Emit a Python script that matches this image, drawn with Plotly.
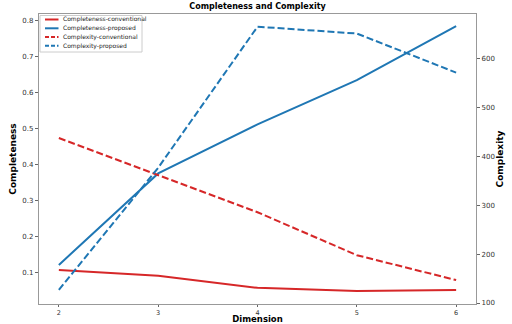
import plotly.graph_objects as go

dimension = [2, 3, 4, 5, 6]
completeness_conventional = [0.106, 0.090, 0.056, 0.047, 0.050]
completeness_proposed = [0.120, 0.375, 0.512, 0.635, 0.786]
complexity_conventional = [438, 362, 286, 198, 147]
complexity_proposed = [127, 377, 666, 652, 572]

series_names = ["Completeness-conventional", "Completeness-proposed",
                "Complexity-conventional", "Complexity-proposed"]

red = "#d62728"
blue = "#1f77b4"
DASH = "7px,3px"
FONT = "DejaVu Sans"

styles = [dict(color=red, width=2), dict(color=blue, width=2),
          dict(color=red, width=2, dash=DASH), dict(color=blue, width=2, dash=DASH)]
data = [completeness_conventional, completeness_proposed, complexity_conventional, complexity_proposed]
axes = ["y", "y", "y2", "y2"]

fig = go.Figure()
for name, vals, st, ax in zip(series_names, data, styles, axes):
    fig.add_trace(go.Scatter(x=dimension, y=vals, mode="lines", name=name, yaxis=ax,
                             line=st, showlegend=False))

# Compact legend (matplotlib-like) drawn in paper coordinates
L, R, T, B = 39, 476, 14, 304
W, H = R - L, B - T
def px(x): return (x - L) / W
def py(y): return (B - y) / H

shapes = [dict(type="rect", xref="paper", yref="paper", x0=px(40), x1=px(142), y0=py(52), y1=py(15.5),
               line=dict(color="#cccccc", width=1), fillcolor="rgba(255,255,255,0.85)", layer="above")]
annotations = []
rows = [19.5, 28.3, 37.0, 45.8]
for name, st, ry in zip(series_names, styles, rows):
    shapes.append(dict(type="line", xref="paper", yref="paper", x0=px(45), x1=px(58.5), y0=py(ry), y1=py(ry),
                       line=dict(color=st["color"], width=2, dash="4px,2px" if "dash" in st else None), layer="above"))
    annotations.append(dict(text=name, xref="paper", yref="paper", x=px(61), y=py(ry), xanchor="left",
                            yanchor="middle", showarrow=False, font=dict(size=6, color="#222", family=FONT)))

axis_common = dict(showline=True, linecolor="#999", linewidth=1.2, ticks="outside", ticklen=3,
                   tickcolor="#666", tickfont=dict(size=7, color="#333", family=FONT),
                   showgrid=False, zeroline=False)

fig.update_layout(
    width=512, height=324,
    margin=dict(l=L, r=512 - R, t=T, b=324 - B, autoexpand=False),
    plot_bgcolor="white", paper_bgcolor="white",
    title=dict(text="<b>Completeness and Complexity</b>", x=0.5, xref="paper", y=0.99, yanchor="top",
               font=dict(size=8, color="black", family=FONT)),
    xaxis=dict(range=[1.8, 6.2], tickvals=dimension, mirror=True,
               title=dict(text="<b>Dimension</b>", font=dict(size=8.5, color="black", family=FONT), standoff=0),
               **axis_common),
    yaxis=dict(range=[0.011, 0.8195], tickvals=[0.1, 0.2, 0.3, 0.4, 0.5, 0.6, 0.7, 0.8],
               title=dict(text="<b>Completeness</b>", font=dict(size=9, color="black", family=FONT), standoff=4),
               **axis_common),
    yaxis2=dict(range=[98, 692], tickvals=[100, 200, 300, 400, 500, 600], overlaying="y", side="right",
                title=dict(text="<b>Complexity</b>", font=dict(size=9, color="black", family=FONT), standoff=1),
                **axis_common),
    shapes=shapes,
    annotations=annotations,
    showlegend=False,
)
fig.update_xaxes(tickfont=dict(size=6.5), ticklen=2)

fig.write_html("out.html", config={"displayModeBar": False},
               post_script="document.body.style.margin='0px';document.body.style.padding='0px';"
                           "document.body.style.overflow='hidden';")
